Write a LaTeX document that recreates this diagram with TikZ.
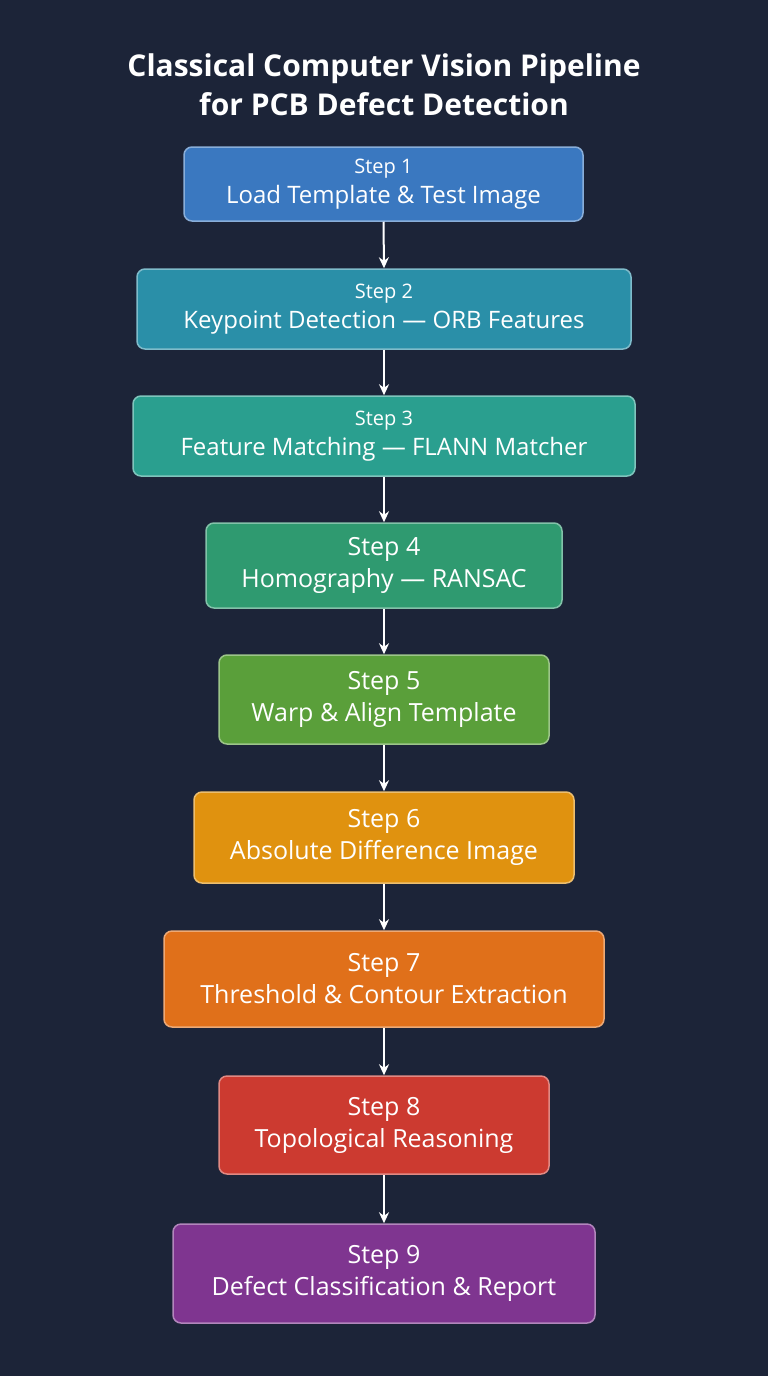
\documentclass[tikz,border=0pt]{standalone}
\usepackage{fontspec}
\setmainfont{Open Sans}
\usetikzlibrary{arrows.meta}
\definecolor{bg}{HTML}{1C2438}
\definecolor{c1}{HTML}{3A78C0}
\definecolor{c2}{HTML}{2A8FA8}
\definecolor{c3}{HTML}{2A9F8F}
\definecolor{c4}{HTML}{2F9A70}
\definecolor{c5}{HTML}{5A9F3A}
\definecolor{c6}{HTML}{E0920F}
\definecolor{c7}{HTML}{E0701A}
\definecolor{c8}{HTML}{CC3A30}
\definecolor{c9}{HTML}{7F3590}
\begin{document}
\begin{tikzpicture}[x=1pt,y=-1pt,
  box/.style={draw=#1!60!white,line width=1.5pt,fill=#1,rounded corners=8pt,text=white,align=center,inner sep=0pt},
  small/.style={font=\fontsize{24}{30}\selectfont},
  big/.style={font=\fontsize{25}{32}\selectfont},
  arr/.style={white,line width=2pt,-{Stealth[length=11pt,width=10pt]}}]
\fill[bg] (0,0) rectangle (768,1376);
\useasboundingbox (0,0) rectangle (768,1376);
\node[text=white,font=\bfseries\fontsize{30}{39}\selectfont,align=center] (title) at (384,85) {Classical Computer Vision Pipeline\\for PCB Defect Detection};
\node[box=c1,small,minimum width=399pt,minimum height=74pt] (s1) at (383.5,184) {{\fontsize{20}{24}\selectfont Step 1}\\Load Template \& Test Image};
\node[box=c2,small,minimum width=494pt,minimum height=80pt] (s2) at (384,309) {{\fontsize{20}{24}\selectfont Step 2}\\Keypoint Detection — ORB Features};
\node[box=c3,small,minimum width=502pt,minimum height=80pt] (s3) at (384,436) {{\fontsize{20}{24}\selectfont Step 3}\\Feature Matching — FLANN Matcher};
\node[box=c4,big,minimum width=356pt,minimum height=85pt] (s4) at (384,565.5) {Step 4\\Homography — RANSAC};
\node[box=c5,big,minimum width=330pt,minimum height=89pt] (s5) at (384,699.5) {Step 5\\Warp \& Align Template};
\node[box=c6,big,minimum width=380pt,minimum height=91pt] (s6) at (384,837.5) {Step 6\\Absolute Difference Image};
\node[box=c7,big,minimum width=440pt,minimum height=96pt] (s7) at (384,979) {Step 7\\Threshold \& Contour Extraction};
\node[box=c8,big,minimum width=330pt,minimum height=98pt] (s8) at (384,1125) {Step 8\\Topological Reasoning};
\node[box=c9,big,minimum width=422pt,minimum height=99pt] (s9) at (384,1273.5) {Step 9\\Defect Classification \& Report};
\foreach \a/\b in {s1/s2,s2/s3,s3/s4,s4/s5,s5/s6,s6/s7,s7/s8,s8/s9}
  \draw[arr] (\a.south) -- (\b.north);
\end{tikzpicture}
\end{document}
